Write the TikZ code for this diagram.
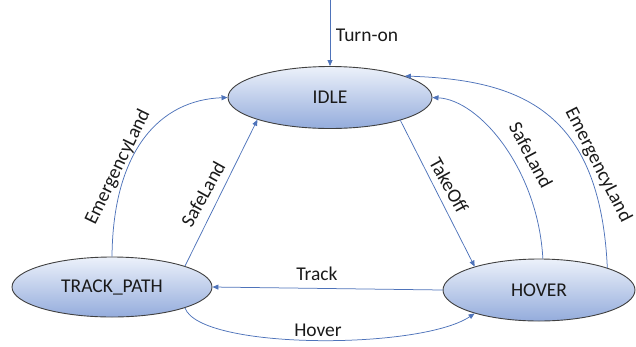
\documentclass[tikz,border=0pt]{standalone}
\usepackage{fontspec}
\setmainfont{Carlito}
\usetikzlibrary{shapes.geometric,arrows.meta}
\definecolor{edgeblue}{RGB}{78,115,186}
\definecolor{rimgray}{RGB}{64,64,64}
\definecolor{fillhi}{RGB}{236,241,250}
\definecolor{filllo}{RGB}{148,172,220}
\definecolor{inkdark}{RGB}{26,26,26}
\tikzset{
  state/.style={ellipse, draw=rimgray, line width=0.9pt, inner sep=0pt,
    top color=fillhi, bottom color=filllo, text=inkdark,
    font=\fontsize{19.5}{22}\selectfont},
  trans/.style={draw=edgeblue, line width=0.75pt,
    -{Triangle[length=6pt,width=5pt]}},
  tlabel/.style={text=inkdark, inner sep=0pt,
    font=\fontsize{19.5}{22}\selectfont}
}
\begin{document}
\begin{tikzpicture}[x=1pt,y=-1pt]
\useasboundingbox (0,0) rectangle (636,346);

% states
\node[state, minimum width=204pt, minimum height=62pt] (idle)  at (330,97.5) {IDLE};
\node[state, minimum width=200pt, minimum height=60pt] (track) at (112,287)  {TRACK\_PATH};
\node[state, minimum width=192pt, minimum height=62pt] (hover) at (539,290)  {HOVER};

% power-on entry
\coordinate (pwr) at (330,0);
\draw[trans] (pwr) -- (idle.north);
\node[tlabel] (lturn) at (367,35) {Turn-on};

% IDLE -> HOVER
\draw[trans] (idle.-18) -- (hover.160);
\node[tlabel, rotate=-61] (ltake) at (449,185) {TakeOff};

% HOVER -> IDLE
\draw[trans] (hover.83) .. controls (538,170) and (480,100) .. (idle.east);
\node[tlabel, rotate=-62] (lsafer) at (531,155) {SafeLand};
\draw[trans] (hover.18) .. controls (600,110) and (520,80) .. (idle.16);
\node[tlabel, rotate=-63] (lemr) at (598,165) {EmergencyLand};

% TRACK_PATH -> IDLE
\draw[trans] (track.90) .. controls (113,150) and (160,100) .. (idle.west);
\node[tlabel, rotate=64] (leml) at (118,167) {EmergencyLand};
\draw[trans] (track.16) -- (idle.197);
\node[tlabel, rotate=61] (lsafel) at (203,194) {SafeLand};

% HOVER <-> TRACK_PATH
\draw[trans] (hover.west) -- (track.east);
\node[tlabel] (ltrack) at (317,274) {Track};
\draw[trans] (track.-16) .. controls (200,350) and (420,350) .. (hover.200);
\node[tlabel] (lhover) at (318,330) {Hover};
\end{tikzpicture}
\end{document}
